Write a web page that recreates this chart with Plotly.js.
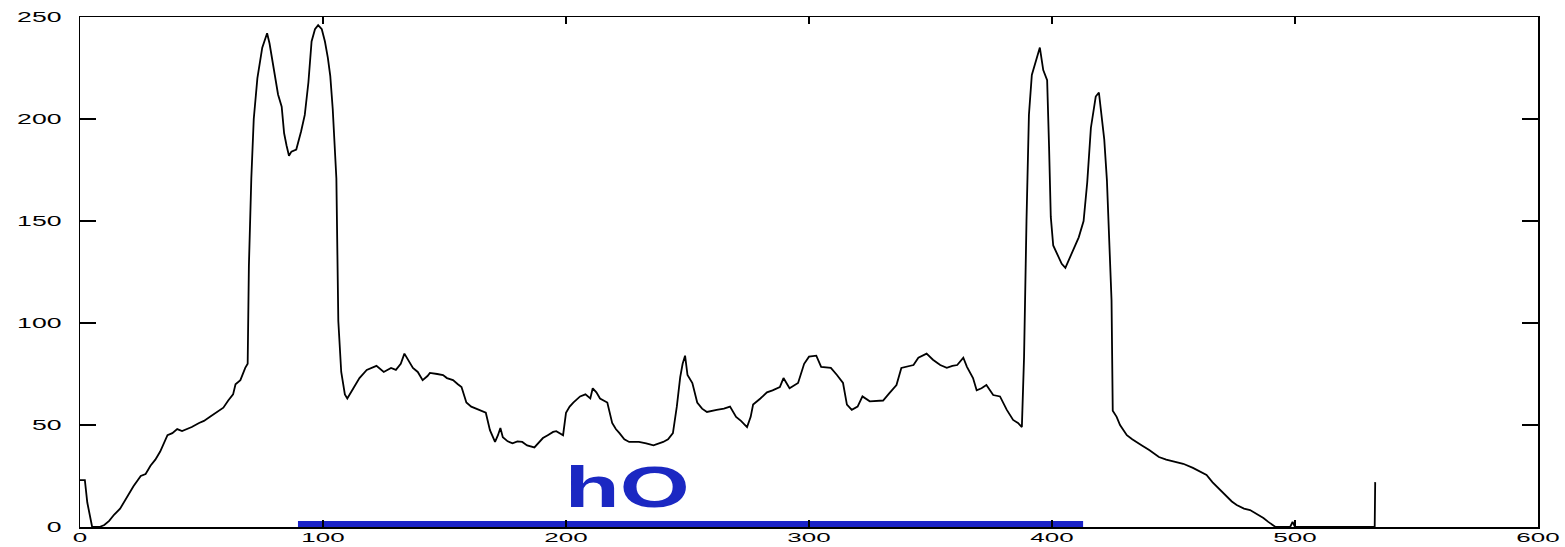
<!DOCTYPE html>
<html>
<head>
<meta charset="utf-8">
<script src="https://cdn.plot.ly/plotly-3.0.1.min.js"></script>
<style>html,body{margin:0;padding:0;background:#fff;}#chart{width:1565px;height:547px;}</style>
</head>
<body>
<div id="chart"></div>
<script>
// Profile curve (x position, intensity)
const profileX = [0,2,3,4,5,8,10,12,14,16.5,19,22,25,27,29,31,33,35,36,38,40,42,44,46,49,51,53.5,56,59,61,63,64,66,68,69,69.5,70.5,71.5,73,75,77,78,80,81.5,83,84,85,86,87,89,91,92.5,94,95.3,96.7,98,99.5,100.8,102,103,104,105.5,106.3,107.5,109,110,112.5,115,118,120,122,125,128,130,132,133.5,135,137,139,141,143,144,147,149.4,151,153.5,155.5,157,159,161,163,165,167,168.7,170.8,172,173,174,176,178,180,182,184,187,188.5,190.5,192.5,194.7,196,198.8,200,201.5,203,205.8,208,210,211,212.5,214,217,219,220.5,222,224,226,230,233,236,240,242,244,245.6,247,248,249,250,252,254,256,258,262,265,267.5,270,272,274.5,276,277,280,282.7,285,288,289.5,292,295.5,298,300,303,305,309,311.5,314,315.6,317.6,320,322,325,328,330.5,333,336,338,341,343,345,348.4,351,354,356.7,359,361,363.5,365,367.5,369,371,373,375.8,378.6,381.4,384,386,387.6,388.5,389.5,390.5,391.7,393.7,395,396.4,398,398.8,399.5,400.5,402,404,405.5,407,409,411,413,414.5,416,418,419.3,420.5,421.5,422.6,423.5,424.5,425,426.6,428,430.8,433,435,437,440,444,447,451,454,458,461,463.6,466,468,470,472,474,476,479,481.5,484,487,489,491,492,498,499,500,532.8,533];
const profileY = [23,23,12,5,0,0,1,3,6,9,14,20,25,26,30,33,37,42,45,46,48,47,48,49,51,52,54,56,58.5,62,65,70,72,78,80,128,171,200,220,235,242,237,223,212,206,193,187,182,184,185,194,202,218,238,244,246,244,238,230,221,205,171,101,76,65,63,68,73,77,78,79,76,78,77,80,85,82,78,76,72,74,75.5,75,74.5,73,72,70,68.6,61,59,58,57,56,47.5,41.7,45,48.5,44,42,41,42,41.7,40,39,41,43.6,45,46.6,47,45,56,59,61,64,65,63,68,66,63,61,51,48,46,43,41.7,41.7,41,40,41.7,43,46,59,73.5,80,84,74.5,70.6,61,58,56.4,57.4,58,59,54,52,49,54,60,63,66,67,68.6,73,68,70.6,80,83.5,84,78.5,78,74.5,70.6,60,57.4,59,64,61.6,62,62,65.5,69.6,78,79,79.4,83,85,82,79.4,78,79,79.4,83,78.5,73,67,68,69.6,64.7,64,57.4,52.5,51,49,83.5,150,202,221.6,229,235,224,219,186,152,138,134,129,127,131,136,142,150,169,195.6,211,213,202,190,170,140,111,57,54,50,45,43,41.7,40,37.7,34.3,33,32,31,29,27,25.5,22,19.6,17,14.7,12.5,10.8,9,8.3,6.5,4.4,2.5,1,0,0,2.5,0,0,22];
// Blue marker bar and its label
const barX = [89.7, 412.8];
const barY = [1.5, 1.5];
const labelText = "hO";
const labelPos = [225.5, 20];
const xTicks = [0,100,200,300,400,500,600];
const yTicks = [0,50,100,150,200,250];

const traces = [
  {x: profileX, y: profileY, type: 'scatter', mode: 'lines',
   line: {color: '#000000', width: 1.8}, hoverinfo: 'skip', cliponaxis: false},
  {x: barX, y: barY, type: 'scatter', mode: 'lines',
   line: {color: '#1a22c8', width: 6}, hoverinfo: 'skip'}
];
const axisFont = {family: 'Liberation Sans, Arial, sans-serif', size: 14, color: '#000'};
const xFont = {family: 'Liberation Sans, Arial, sans-serif', size: 13, color: '#000'};
const layout = {
  width: 1565, height: 547,
  margin: {l: 80, r: 27, t: 17, b: 20, pad: 0},
  paper_bgcolor: '#fff', plot_bgcolor: '#fff',
  showlegend: false,
  xaxis: {range: [0, 600], tickvals: xTicks, ticktext: xTicks.map(String),
    ticks: 'inside', ticklen: 7, tickwidth: 1.2, tickcolor: '#000',
    showline: true, linecolor: '#000', linewidth: 1.5, mirror: 'ticks',
    showgrid: false, zeroline: false, tickfont: xFont, ticklabelstandoff: 0},
  yaxis: {range: [0, 250], tickvals: yTicks, ticktext: yTicks.map(String),
    ticks: 'inside', ticklen: 16, tickwidth: 1.2, tickcolor: '#000',
    showline: true, linecolor: '#000', linewidth: 1.5, mirror: 'ticks',
    showgrid: false, zeroline: false, tickfont: axisFont, ticklabelstandoff: 14},
  annotations: [{x: labelPos[0], y: labelPos[1], xref: 'x', yref: 'y',
    text: '<b>' + labelText + '</b>', showarrow: false,
    font: {family: 'Liberation Sans, Arial, sans-serif', size: 58, color: '#1b28c2'}}]
};

// The reference picture is stretched horizontally; widen texts to match.
function stretch(el, sx, dy) {
  const bb = el.getBBox();
  const anchor = el.getAttribute('text-anchor') || getComputedStyle(el).textAnchor || 'start';
  let ax = bb.x;
  if (anchor === 'middle') ax = bb.x + bb.width / 2;
  else if (anchor === 'end') ax = bb.x + bb.width;
  const t = el.getAttribute('transform') || '';
  el.setAttribute('transform', (t + ' translate(' + ax + ',' + (dy || 0) + ') scale(' + sx + ',1) translate(' + (-ax) + ',0)').trim());
}
Plotly.newPlot('chart', traces, layout, {staticPlot: true, displayModeBar: false}).then(function (gd) {
  gd.querySelectorAll('.xtick text').forEach(function (el) { stretch(el, 2.0, -2); });
  gd.querySelectorAll('.ytick text').forEach(function (el) { stretch(el, 1.9, 0); });
  gd.querySelectorAll('.annotation-text').forEach(function (el) { stretch(el, 1.55, 0); });
});
</script>
</body>
</html>
